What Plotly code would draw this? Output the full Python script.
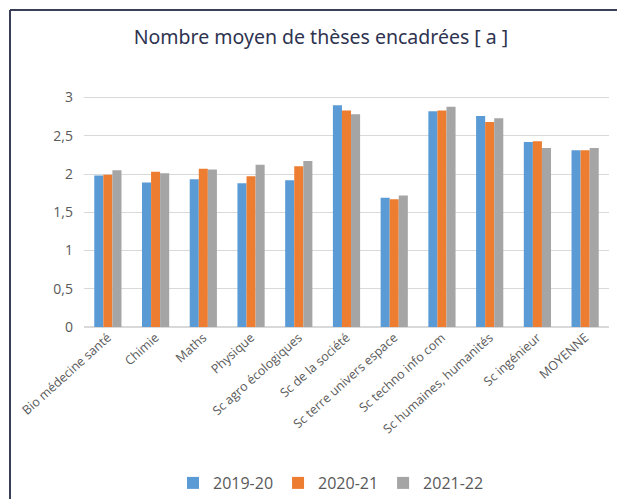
import plotly.graph_objects as go

categories = ["Bio médecine santé", "Chimie", "Maths", "Physique", "Sc agro écologiques",
              "Sc de la société", "Sc terre univers espace", "Sc techno info com",
              "Sc humaines, humanités", "Sc ingénieur", "MOYENNE"]
series_names = ["2019-20", "2020-21", "2021-22"]
v2019 = [1.98, 1.89, 1.93, 1.88, 1.92, 2.90, 1.69, 2.82, 2.76, 2.42, 2.31]
v2020 = [1.99, 2.03, 2.07, 1.97, 2.10, 2.83, 1.67, 2.83, 2.68, 2.43, 2.31]
v2021 = [2.05, 2.01, 2.06, 2.12, 2.17, 2.78, 1.72, 2.88, 2.73, 2.34, 2.34]
colors = ["#5b9bd5", "#ed7d31", "#a5a5a5"]
yticks = [0, 0.5, 1, 1.5, 2, 2.5, 3]

fig = go.Figure()
for name, vals, col in zip(series_names, [v2019, v2020, v2021], colors):
    fig.add_trace(go.Bar(x=categories, y=vals, name=name, marker_color=col,
                         marker_line_width=0))

# page body has an 8px margin; figure sized so it fits the window
OFF = 8
W, H = 625 - OFF, 499 - OFF
ml, mr, mt, mb = 84 - OFF, 16, 96 - OFF, 172
pw, ph = W - ml - mr, H - mt - mb

def px(x):  # screen x -> paper
    return (x - OFF - ml) / pw

def py(y):  # screen y -> paper
    return (H - mb - (y - OFF)) / ph

fig.update_layout(
    width=W, height=H,
    margin=dict(l=ml, r=mr, t=mt, b=mb, autoexpand=False),
    paper_bgcolor="white", plot_bgcolor="white",
    separators=", ",
    barmode="group", bargap=0.43, bargroupgap=0,
    title=dict(text="Nombre moyen de thèses encadrées [ a ]",
               font=dict(family="Noto Sans", size=19.5, color="#2e3350"),
               x=px(321), xref="paper", xanchor="center",
               y=1 - (37 - OFF) / H, yref="container", yanchor="middle"),
    xaxis=dict(tickangle=-42, tickfont=dict(family="Open Sans", size=12.5, color="#595959"),
               showgrid=False, showline=False, ticks=""),
    yaxis=dict(range=[0, 3.02], tickvals=yticks, tickformat=".1~f",
               tickfont=dict(family="Open Sans", size=14, color="#595959"),
               gridcolor="#d9d9d9", gridwidth=1, zeroline=True, zerolinecolor="#d9d9d9",
               showline=False, ticks="", ticklabelstandoff=10),
    legend=dict(orientation="h", x=px(331), xanchor="center", y=py(483), yanchor="middle",
                font=dict(family="Open Sans", size=16, color="#595959"),
                itemwidth=30, traceorder="normal"),
    shapes=[
        dict(type="line", xref="paper", yref="paper", x0=px(10), x1=px(640), y0=py(10), y1=py(10),
             line=dict(color="#3a3f58", width=2)),
        dict(type="line", xref="paper", yref="paper", x0=px(10), x1=px(10), y0=py(10), y1=py(520),
             line=dict(color="#3a3f58", width=2)),
    ],
)

fig.write_html("out.html")
